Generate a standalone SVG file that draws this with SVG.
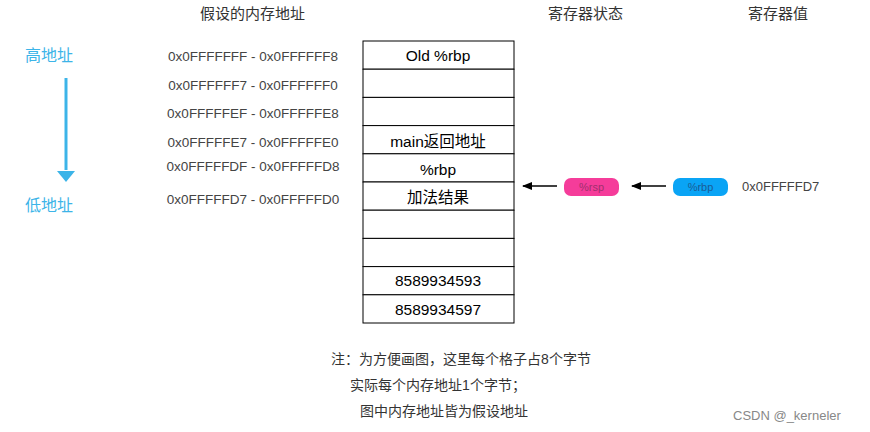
<svg xmlns="http://www.w3.org/2000/svg" width="870" height="432" viewBox="0 0 870 432">
<style>
text{font-family:"Liberation Sans","Noto Sans CJK SC",sans-serif}
.h{font-size:15px;fill:#333}
.a{font-size:13.5px;fill:#444;text-anchor:middle}
.c{font-size:15.5px;fill:#000;text-anchor:middle}
.b{font-size:16px;fill:#3cb4e8}
.cell{fill:#fff;stroke:#000;stroke-width:1}
.n{font-size:14px;fill:#333;text-anchor:middle}
</style>
<defs><marker id="m" viewBox="0 0 10 10" refX="9" refY="5" markerWidth="7" markerHeight="7" orient="auto"><path d="M0,1L10,5L0,9z" fill="#000"/></marker></defs>
<rect width="870" height="432" fill="#fff"/>
<text class="h" x="200" y="19">假设的内存地址</text>
<text class="h" x="548" y="19">寄存器状态</text>
<text class="h" x="748" y="19">寄存器值</text>
<text class="b" x="25" y="61">高地址</text>
<text class="b" x="25" y="211">低地址</text>
<line x1="66" y1="78" x2="66" y2="170" stroke="#3cb4e8" stroke-width="3"/>
<path d="M57,171L75,171L66,182z" fill="#3cb4e8"/>
<g id="addrs">
<text class="a" x="253" y="61">0x0FFFFFFF - 0x0FFFFFF8</text>
<text class="a" x="253" y="90">0x0FFFFFF7 - 0x0FFFFFF0</text>
<text class="a" x="253" y="118">0x0FFFFFEF - 0x0FFFFFE8</text>
<text class="a" x="253" y="147">0x0FFFFFE7 - 0x0FFFFFE0</text>
<text class="a" x="253" y="171">0x0FFFFFDF - 0x0FFFFFD8</text>
<text class="a" x="253" y="204">0x0FFFFFD7 - 0x0FFFFFD0</text>
</g>
<g id="stack">
<rect class="cell" x="363" y="41" width="151" height="28.2"/>
<rect class="cell" x="363" y="69.2" width="151" height="28.2"/>
<rect class="cell" x="363" y="97.4" width="151" height="28.2"/>
<rect class="cell" x="363" y="125.6" width="151" height="28.2"/>
<rect class="cell" x="363" y="153.8" width="151" height="28.2"/>
<rect class="cell" x="363" y="182" width="151" height="28.2"/>
<rect class="cell" x="363" y="210.2" width="151" height="28.2"/>
<rect class="cell" x="363" y="238.4" width="151" height="28.2"/>
<rect class="cell" x="363" y="266.6" width="151" height="28.2"/>
<rect class="cell" x="363" y="294.8" width="151" height="28.2"/>
<text class="c" x="438" y="61">Old %rbp</text>
<text class="c" x="438" y="147">main返回地址</text>
<text class="c" x="438" y="175">%rbp</text>
<text class="c" x="438" y="203">加法结果</text>
<text class="c" x="438" y="286">8589934593</text>
<text class="c" x="438" y="315">8589934597</text>
</g>
<g id="rsp"><rect x="564" y="178" width="55" height="18" rx="7" fill="#f53c9a"/><text x="591.5" y="191" font-size="11" fill="#a0306e" text-anchor="middle">%rsp</text></g>
<g id="rbp"><rect x="673" y="178" width="55" height="18" rx="7" fill="#0aa4f5"/><text x="700.5" y="191" font-size="11" fill="#1a5d96" text-anchor="middle">%rbp</text></g>
<text x="742" y="191" font-size="13" fill="#444">0x0FFFFFD7</text>
<g id="connectors">
<line x1="557" y1="186" x2="523" y2="186" stroke="#000" stroke-width="1.5" marker-end="url(#m)"/>
<line x1="666" y1="186" x2="632" y2="186" stroke="#000" stroke-width="1.5" marker-end="url(#m)"/>
</g>
<text class="n" x="461" y="364">注：为方便画图，这里每个格子占8个字节</text>
<text class="n" x="438" y="390">实际每个内存地址1个字节；</text>
<text class="n" x="444" y="416">图中内存地址皆为假设地址</text>
<text x="733" y="420" font-size="13" fill="#888">CSDN @_kerneler</text>
</svg>
